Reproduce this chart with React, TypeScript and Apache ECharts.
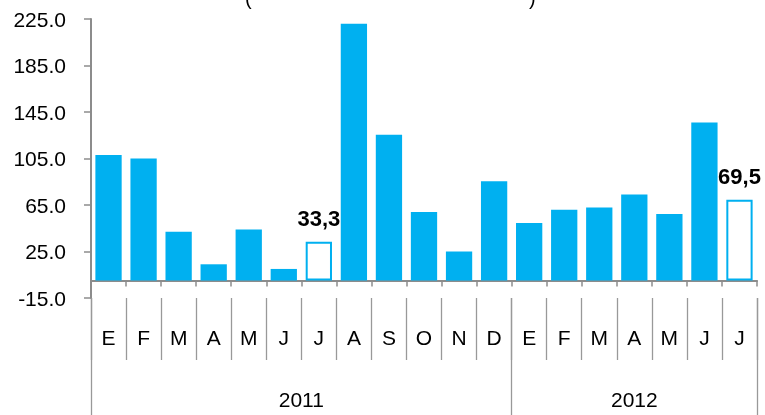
import React, { useEffect, useRef } from "react";
import * as echarts from "echarts";

const months = ["E", "F", "M", "A", "M", "J", "J", "A", "S", "O", "N", "D", "E", "F", "M", "A", "M", "J", "J"];
const values = [108, 105, 42, 14, 44, 10, 33.3, 221, 125.5, 59, 25, 85.5, 49.5, 61, 62.8, 74, 57.3, 136, 69.5];
const hollowIndices = [6, 18];
const years = ["2011", "2012"];
const yearStarts = [0, 12, 19];
const yTickMin = -15;
const yTickMax = 225;
const yTickStep = 40;

const BLUE = "#00B0F0";
const GRAY = "#8c8c8c";
const FONT = "Liberation Sans";

export default function App() {
  const ref = useRef<HTMLDivElement>(null);
  useEffect(() => {
    if (!ref.current) return;
    const chart = echarts.init(ref.current, undefined, { renderer: "svg" });
    const data = values.map((v, i) => {
      const hollow = hollowIndices.includes(i);
      return {
        value: v,
        itemStyle: hollow
          ? { color: "#ffffff", borderColor: BLUE, borderWidth: 2 }
          : { color: BLUE },
        label: {
          show: hollow,
          position: "top",
          distance: 12,
          formatter: () => String(v).replace(".", ","),
          fontFamily: FONT,
          fontWeight: "bold",
          fontSize: 22,
          color: "#000",
        },
      };
    });
    const yearCenters = years.map((_, i) => (yearStarts[i] + yearStarts[i + 1]) / 2);
    chart.setOption({
      animation: false,
      grid: { left: 91, right: 8, top: 19, bottom: 117, containLabel: false },
      xAxis: [
        {
          type: "category",
          data: months,
          axisLine: { show: true, onZero: true, lineStyle: { color: GRAY, width: 2 } },
          axisTick: { show: true, length: 6, interval: 0, lineStyle: { color: GRAY, width: 1.5 } },
          axisLabel: { show: false },
          splitLine: { show: false },
        },
        {
          type: "category",
          data: months,
          position: "bottom",
          axisLine: { show: false, onZero: false },
          axisTick: { show: true, length: 62, interval: 0, lineStyle: { color: "#999", width: 1.3 } },
          axisLabel: { show: true, interval: 0, margin: 29, fontFamily: FONT, fontSize: 21, color: "#000" },
          splitLine: { show: false },
        },
        {
          type: "value",
          min: 0,
          max: months.length,
          position: "bottom",
          axisLine: { show: false, onZero: false },
          axisTick: { show: true, length: 117, customValues: yearStarts, lineStyle: { color: "#999", width: 1.3 } },
          axisLabel: {
            show: true,
            customValues: yearCenters,
            margin: 91,
            formatter: (v: number) => {
              const idx = yearCenters.indexOf(v);
              return idx >= 0 ? years[idx] : "";
            },
            fontFamily: FONT,
            fontSize: 21,
            color: "#000",
          },
          splitLine: { show: false },
        },
      ],
      yAxis: {
        type: "value",
        min: yTickMin,
        max: yTickMax,
        interval: yTickStep,
        axisLine: { show: true, onZero: false, lineStyle: { color: GRAY, width: 2 } },
        axisTick: { show: true, length: 7, lineStyle: { color: GRAY, width: 1.5 } },
        axisLabel: {
          margin: 25,
          fontFamily: FONT,
          fontSize: 21,
          color: "#000",
          formatter: (v: number) => v.toFixed(1),
        },
        splitLine: { show: false },
      },
      graphic: [
        { type: "text", left: 245, top: -12, style: { text: "(", fontFamily: FONT, fontSize: 20, fill: "#000" } },
        { type: "text", left: 529, top: -12, style: { text: ")", fontFamily: FONT, fontSize: 20, fill: "#000" } },
      ],
      series: [
        {
          type: "bar",
          xAxisIndex: 0,
          yAxisIndex: 0,
          data,
          barCategoryGap: "25%",
        },
      ],
    });
    return () => chart.dispose();
  }, []);
  return <div ref={ref} style={{ position: "fixed", left: 0, top: 0, width: 765, height: 415 }} />;
}
